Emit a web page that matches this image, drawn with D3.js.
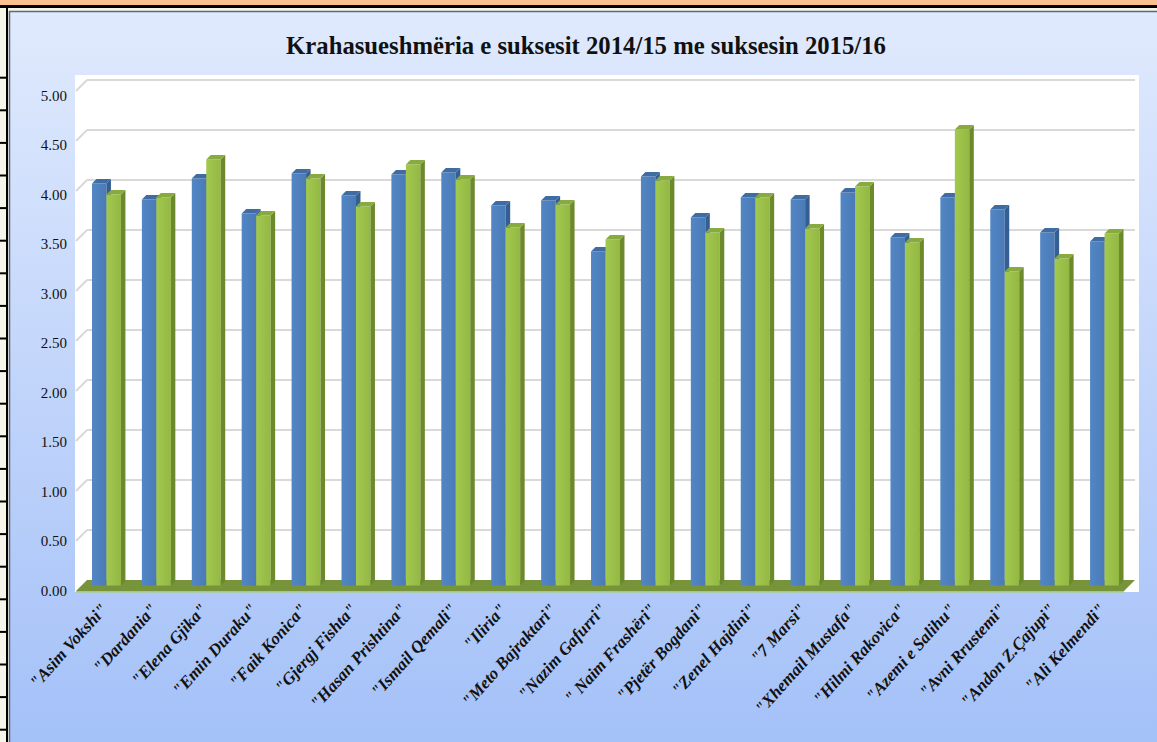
<!DOCTYPE html>
<html>
<head>
<meta charset="utf-8">
<script src="https://cdn.jsdelivr.net/npm/d3@7"></script>
<style>
body { margin: 0; background: #ffffff; }
svg { display: block; }
</style>
</head>
<body>
<div id="chartDiv"></div>
<script>
// school names (x axis) and the average success of each year
var categories = ["\"Asim Vokshi\"", "\"Dardania\"", "\"Elena Gjika\"", "\"Emin Duraku\"", "\"Faik Konica\"",
	"\"Gjergj Fishta\"", "\"Hasan Prishtina\"", "\"Ismail Qemali\"", "\"Iliria\"", "\"Meto Bajraktari\"",
	"\"Nazim Gafurri\"", "\" Naim Frashëri\"", "\"Pjetër Bogdani\"", "\"Zenel Hajdini\"", "\"7 Marsi\"",
	"\"Xhemail Mustafa\"", "\"Hilmi Rakovica\"", "\"Azemi e Salihu\"", "\"Avni Rrustemi\"", "\"Andon Z.Çajupi\"",
	"\"Ali Kelmendi\""];
var series = ["2014/15", "2015/16"];
var values1415 = [4.02, 3.86, 4.07, 3.72, 4.12, 3.90, 4.11, 4.13, 3.80, 3.85, 3.34, 4.09, 3.68, 3.88, 3.86, 3.93, 3.48, 3.88, 3.76, 3.53, 3.44];
var values1516 = [3.91, 3.88, 4.26, 3.70, 4.07, 3.79, 4.21, 4.06, 3.58, 3.81, 3.46, 4.05, 3.53, 3.88, 3.57, 3.99, 3.43, 4.56, 3.14, 3.27, 3.52];
var yTickValues = [0, 0.5, 1, 1.5, 2, 2.5, 3, 3.5, 4, 4.5, 5];
var chartTitle = "Krahasueshmëria e suksesit 2014/15 me suksesin 2015/16";

var W = 1157, H = 742;
var depth = 5.5;      // half of the 3d depth of the plot
var barDepth = 4.5;   // depth of one column

var svg = d3.select("#chartDiv").append("svg")
	.attr("width", W)
	.attr("height", H);

var defs = svg.append("defs");
var bg = defs.append("linearGradient").attr("id", "bgGrad").attr("x1", 0).attr("y1", 0).attr("x2", 0).attr("y2", 1);
bg.append("stop").attr("offset", "0%").attr("stop-color", "#e0eafd");
bg.append("stop").attr("offset", "100%").attr("stop-color", "#a3c0f8");

function hGrad(id, c1, c2) {
	var g = defs.append("linearGradient").attr("id", id).attr("x1", 0).attr("y1", 0).attr("x2", 1).attr("y2", 0);
	g.append("stop").attr("offset", "0%").attr("stop-color", c1);
	g.append("stop").attr("offset", "100%").attr("stop-color", c2);
}
hGrad("blueFront", "#5286c4", "#4a7bb7");
hGrad("greenFront", "#a2c84f", "#93b944");

//page decoration round the chart
svg.append("rect").attr("x", 0).attr("y", 0).attr("width", W).attr("height", H).attr("fill", "#f6f6ea");
svg.append("rect").attr("x", 0).attr("y", 0).attr("width", W).attr("height", 5).attr("fill", "#fac08f");
svg.append("rect").attr("x", 0).attr("y", 5).attr("width", W).attr("height", 3).attr("fill", "#000");
svg.append("rect").attr("x", 6).attr("y", 5).attr("width", 2).attr("height", H).attr("fill", "#000");
for (var ty = 566.7; ty > 70; ty -= 32.6) {
	svg.append("rect").attr("x", 0).attr("y", ty - 1).attr("width", 6).attr("height", 2).attr("fill", "#000");
}
for (var ty2 = 599.3; ty2 < H; ty2 += 32.6) {
	svg.append("rect").attr("x", 0).attr("y", ty2 - 1).attr("width", 6).attr("height", 2).attr("fill", "#000");
}

//chart area
svg.append("rect").attr("x", 9).attr("y", 11).attr("width", W).attr("height", H)
	.attr("fill", "url(#bgGrad)");
svg.append("line").attr("x1", 9).attr("x2", W).attr("y1", 11.5).attr("y2", 11.5).attr("stroke", "#5a6a80").attr("stroke-width", 1.5);
svg.append("line").attr("x1", 9.5).attr("x2", 9.5).attr("y1", 11).attr("y2", H).attr("stroke", "#5a6a80").attr("stroke-width", 1.5);

//title, fitted to the width it has in the picture
var title = svg.append("text")
	.attr("x", 586)
	.attr("y", 54)
	.attr("text-anchor", "middle")
	.attr("font-family", "Liberation Serif, DejaVu Serif, serif")
	.attr("font-weight", "bold")
	.attr("font-size", 23)
	.attr("fill", "#111")
	.text(chartTitle);
var tl = title.node().getComputedTextLength();
title.attr("font-size", 23 * 600 / tl);

//scales: y and x are for the middle plane of the 3d box
var y = d3.scaleLinear().domain([0, 5]).range([585.5, 85.5]);
var x0 = d3.scaleBand().domain(categories).range([81.5, 1129.5]).padding(0);
var x1 = d3.scaleBand().domain(series).range([x0.bandwidth() * 0.21, x0.bandwidth() * 0.79]).padding(0);

//white plot area
svg.append("rect").attr("x", 75).attr("y", 75).attr("width", 1139 - 75).attr("height", 592 - 75).attr("fill", "#fff");

var back = svg.append("g").attr("transform", "translate(" + depth + "," + (-depth) + ")");
var range = x0.range();

//grid lines on back wall and side wall
yTickValues.forEach(function(v) {
	if (v == 0) return;
	back.append("line")
		.attr("x1", range[0]).attr("x2", range[1])
		.attr("y1", y(v)).attr("y2", y(v))
		.attr("stroke", "#d9d9d9").attr("stroke-width", 2.2);
	back.append("line")
		.attr("x1", range[0]).attr("x2", range[0] - 2 * depth)
		.attr("y1", y(v)).attr("y2", y(v) + 2 * depth)
		.attr("stroke", "#d9d9d9").attr("stroke-width", 2);
});

//floor
var fy = y(0);
svg.append("path")
	.attr("d", "M" + (range[0] + depth) + "," + (fy - depth) +
		"L" + (range[1] + depth) + "," + (fy - depth) +
		"L" + (range[1] - depth) + "," + (fy + depth) +
		"L" + (range[0] - depth) + "," + (fy + depth) + "Z")
	.attr("fill", "#77943b");
svg.append("path")
	.attr("d", "M" + (range[0] - depth) + "," + (fy + depth) +
		"L" + (range[1] - depth) + "," + (fy + depth) +
		"L" + (range[1] - depth) + "," + (fy + depth + 1.5) +
		"L" + (range[0] - depth) + "," + (fy + depth + 1.5) + "Z")
	.attr("fill", "#a8cc62");

//y axis labels on the front plane
var yFront = d3.scaleLinear().domain([0, 5]).range([590.5, 95.5]);
var yAxis = svg.append("g")
	.attr("transform", "translate(67,0)")
	.call(d3.axisLeft(yFront).tickValues(yTickValues).tickFormat(d3.format(".2f")).tickSize(0).tickPadding(0));
yAxis.select(".domain").remove();
yAxis.selectAll("text")
	.attr("font-family", "Liberation Serif, DejaVu Serif, serif")
	.attr("font-size", 15)
	.attr("fill", "#111");

//3d columns
var data = categories.map(function(c, i) {
	return { name: c, vals: [{ s: series[0], v: values1415[i] }, { s: series[1], v: values1516[i] }] };
});
var colors = {
	"2014/15": { front: "url(#blueFront)", side: "#355f92", top: "#3f6ca3" },
	"2015/16": { front: "url(#greenFront)", side: "#6c8a2c", top: "#87ab3e" }
};

var group = svg.selectAll(".grp")
	.data(data)
	.enter().append("g")
	.attr("class", "grp")
	.attr("transform", function(d) { return "translate(" + x0(d.name) + ",0)"; });

var bar = group.selectAll(".bar")
	.data(function(d) { return d.vals; })
	.enter().append("g")
	.attr("class", "bar");

bar.append("rect")
	.attr("x", function(d) { return x1(d.s); })
	.attr("y", function(d) { return y(d.v); })
	.attr("width", x1.bandwidth())
	.attr("height", function(d) { return y(0) - y(d.v); })
	.attr("fill", function(d) { return colors[d.s].front; });

bar.append("path")
	.attr("d", function(d) {
		var xr = x1(d.s) + x1.bandwidth(), yt = y(d.v), yb = y(0);
		return "M" + xr + "," + yt + "L" + (xr + barDepth) + "," + (yt - barDepth) +
			"L" + (xr + barDepth) + "," + (yb - barDepth) + "L" + xr + "," + yb + "Z";
	})
	.attr("fill", function(d) { return colors[d.s].side; });

bar.append("path")
	.attr("d", function(d) {
		var xl = x1(d.s), xr = xl + x1.bandwidth(), yt = y(d.v);
		return "M" + xl + "," + yt + "L" + xr + "," + yt + "L" + (xr + barDepth) + "," + (yt - barDepth) +
			"L" + (xl + barDepth) + "," + (yt - barDepth) + "Z";
	})
	.attr("fill", function(d) { return colors[d.s].top; });

//category labels, turned
var xAxis = svg.append("g")
	.attr("transform", "translate(0,610)")
	.call(d3.axisBottom(x0).tickSize(0).tickPadding(0));
xAxis.select(".domain").remove();
xAxis.selectAll(".tick text")
	.attr("text-anchor", "end")
	.attr("dy", 0)
	.attr("y", 0)
	.attr("transform", "translate(2,0) rotate(-48)")
	.attr("font-family", "Liberation Serif, DejaVu Serif, serif")
	.attr("font-weight", "bold")
	.attr("font-style", "italic")
	.attr("font-size", 17)
	.attr("fill", "#111");
</script>
</body>
</html>
